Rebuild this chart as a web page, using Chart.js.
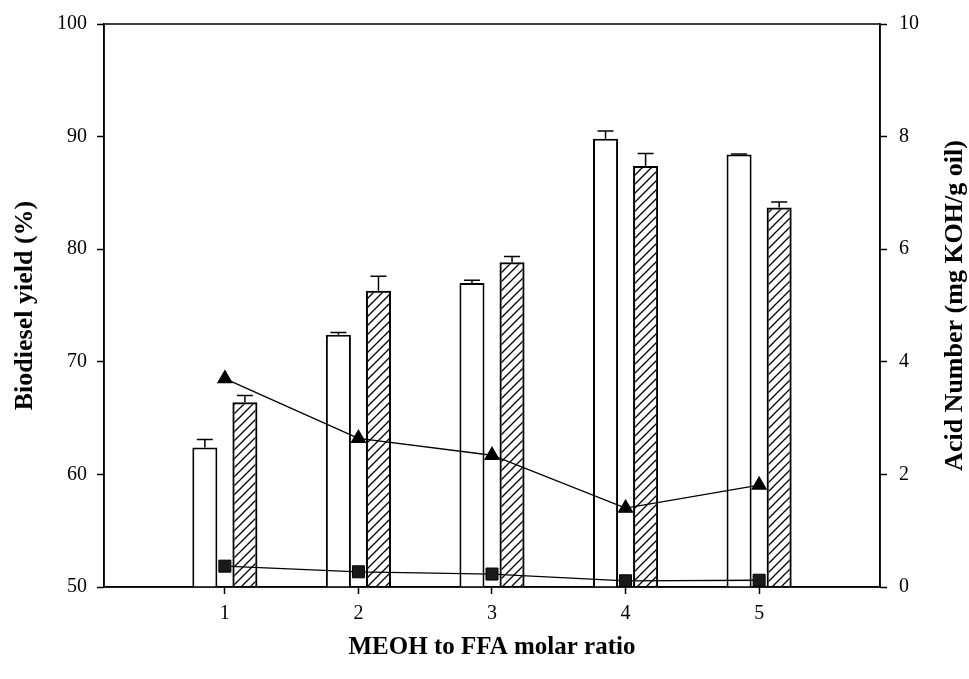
<!DOCTYPE html>
<html>
<head>
<meta charset="utf-8">
<script src="https://cdn.jsdelivr.net/npm/chart.js@4.4.0/dist/chart.umd.min.js"></script>
<style>
    body { margin: 0; background: #fff; }
    #box { width: 969px; height: 679px; }
</style>
</head>
<body>
<div id="box"><canvas id="yieldChart"></canvas></div>
<script>
// 資料
const ratios = [1, 2, 3, 4, 5];
const yieldPlain = [62.4, 72.4, 77.0, 89.8, 88.4];
const yieldPlainErr = [0.7, 0.2, 0.25, 0.7, 0.05];
const yieldHatch = [66.4, 76.3, 78.85, 87.4, 83.7];
const yieldHatchErr = [0.6, 1.3, 0.5, 1.1, 0.5];
const acidTriangle = [3.70, 2.64, 2.34, 1.40, 1.81];
const acidSquare = [0.37, 0.27, 0.23, 0.11, 0.12];
const yieldTicks = [50, 60, 70, 80, 90, 100];
const acidTicks = [0, 2, 4, 6, 8, 10];

const serif = "'Liberation Serif', 'Times New Roman', serif";

// 斜線填色
function makeHatch() {
    const c = document.createElement('canvas');
    c.width = 9;
    c.height = 9;
    const g = c.getContext('2d');
    g.strokeStyle = '#000';
    g.lineWidth = 1.3;
    g.beginPath();
    g.moveTo(0, 9); g.lineTo(9, 0);
    g.moveTo(-1, 1); g.lineTo(1, -1);
    g.moveTo(8, 10); g.lineTo(10, 8);
    g.stroke();
    return g.createPattern(c, 'repeat');
}

const xy = (vals) => ratios.map((r, i) => ({x: r, y: vals[i]}));

// 誤差線
const errorBars = {
    id: 'errorBars',
    afterDatasetDraw(chart, args) {
        const ds = chart.data.datasets[args.index];
        if (!ds.errors) return;
        const ctx = chart.ctx;
        const y = chart.scales.y;
        ctx.save();
        ctx.strokeStyle = '#000';
        ctx.lineWidth = 1.5;
        ctx.beginPath();
        args.meta.data.forEach((bar, i) => {
            const top = y.getPixelForValue(ds.data[i].y + ds.errors[i]);
            ctx.moveTo(bar.x, bar.y);
            ctx.lineTo(bar.x, top);
            ctx.moveTo(bar.x - 8, top);
            ctx.lineTo(bar.x + 8, top);
        });
        ctx.stroke();
        ctx.restore();
    }
};

// 外框與右側標題（由下往上）
const frame = {
    id: 'frame',
    afterDraw(chart) {
        const {ctx, chartArea: a} = chart;
        ctx.save();
        ctx.strokeStyle = '#000';
        ctx.lineWidth = 1.5;
        ctx.strokeRect(a.left, a.top, a.right - a.left, a.bottom - a.top);
        ctx.translate(955, (a.top + a.bottom) / 2);
        ctx.rotate(-Math.PI / 2);
        ctx.fillStyle = '#000';
        ctx.font = `bold 26px ${serif}`;
        ctx.textAlign = 'center';
        ctx.textBaseline = 'middle';
        ctx.fillText('Acid Number (mg KOH/g oil)', 0, 0);
        ctx.restore();
    }
};

const data = {
    datasets: [
        {
            type: 'bar',
            data: xy(yieldPlain),
            errors: yieldPlainErr,
            backgroundColor: '#fff',
            borderColor: '#000',
            borderWidth: 2,
            yAxisID: 'y',
            order: 2
        },
        {
            type: 'bar',
            data: xy(yieldHatch),
            errors: yieldHatchErr,
            backgroundColor: makeHatch(),
            borderColor: '#000',
            borderWidth: 2,
            yAxisID: 'y',
            order: 2
        },
        {
            type: 'line',
            data: xy(acidTriangle),
            borderColor: '#000',
            borderWidth: 1.3,
            pointStyle: 'triangle',
            pointRadius: 8,
            pointBackgroundColor: '#000',
            pointBorderColor: '#000',
            yAxisID: 'y2',
            order: 0
        },
        {
            type: 'line',
            data: xy(acidSquare),
            borderColor: '#000',
            borderWidth: 1.3,
            pointStyle: 'rect',
            pointRadius: 8.5,
            pointBackgroundColor: '#1a1a1a',
            pointBorderColor: '#000',
            pointBorderWidth: 1,
            yAxisID: 'y2',
            order: 0
        }
    ]
};

const tickFont = {family: serif, size: 20};
const titleFont = {family: serif, size: 26, weight: 'bold'};
const tickGrid = {drawOnChartArea: false, offset: false, tickLength: 7, tickWidth: 1.5, tickColor: '#000'};

const options = {
    responsive: true,
    maintainAspectRatio: false,
    animation: false,
    layout: {padding: {top: 22, left: 0, right: 0, bottom: 0}},
    datasets: {
        bar: {categoryPercentage: 0.6, barPercentage: 0.625}
    },
    plugins: {
        legend: {display: false},
        tooltip: {enabled: false}
    },
    scales: {
        x: {
            type: 'linear',
            offset: false,
            min: 0.095,
            max: 5.905,
            afterBuildTicks: s => { s.ticks = ratios.map(v => ({value: v})); },
            afterFit: s => { s.height = 92; },
            grid: tickGrid,
            border: {color: '#000', width: 1.5},
            ticks: {color: '#000', font: tickFont, padding: 8},
            title: {
                display: true,
                text: 'MEOH to FFA molar ratio',
                color: '#000',
                font: {...titleFont, size: 25},
                padding: {top: 0, bottom: 16}
            }
        },
        y: {
            position: 'left',
            min: 50,
            max: 100,
            afterBuildTicks: s => { s.ticks = yieldTicks.map(v => ({value: v})); },
            afterFit: s => { s.width = 104; },
            grid: tickGrid,
            border: {color: '#000', width: 1.5},
            ticks: {color: '#000', font: tickFont, padding: 10},
            title: {
                display: true,
                text: 'Biodiesel yield (%)',
                color: '#000',
                font: titleFont,
                padding: {top: 10, bottom: 0}
            }
        },
        y2: {
            position: 'right',
            min: 0,
            max: 10,
            afterBuildTicks: s => { s.ticks = acidTicks.map(v => ({value: v})); },
            afterFit: s => { s.width = 89; },
            grid: tickGrid,
            border: {color: '#000', width: 1.5},
            ticks: {color: '#000', font: tickFont, padding: 12}
        }
    }
};

const yieldChart = new Chart(document.getElementById('yieldChart'), {
    type: 'bar',
    data: data,
    options: options,
    plugins: [errorBars, frame]
});
</script>
</body>
</html>
